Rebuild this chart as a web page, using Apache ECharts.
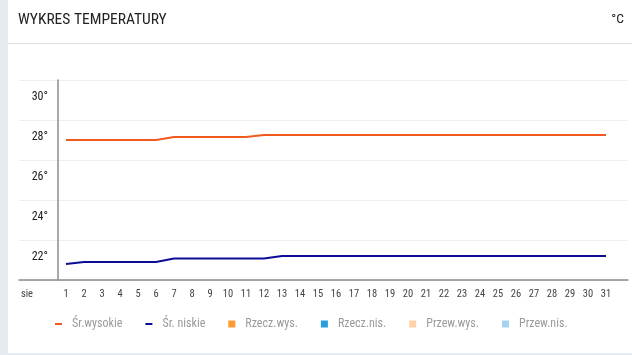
<!DOCTYPE html>
<html>
<head>
<meta charset="utf-8">
<script src="https://cdn.jsdelivr.net/npm/echarts@6/dist/echarts.min.js"></script>
<style>
html,body{margin:0;padding:0;background:#e6ebf2;}
#c{width:632px;height:355px;}
</style>
</head>
<body>
<div id="c"></div>
<script>
const titleText = 'WYKRES TEMPERATURY';
const unitText = '°C';
const monthLabel = 'sie';
const days = [1,2,3,4,5,6,7,8,9,10,11,12,13,14,15,16,17,18,19,20,21,22,23,24,25,26,27,28,29,30,31];
const avgHigh = [27.0,27.0,27.0,27.0,27.0,27.0,27.15,27.15,27.15,27.15,27.15,27.25,27.25,27.25,27.25,27.25,27.25,27.25,27.25,27.25,27.25,27.25,27.25,27.25,27.25,27.25,27.25,27.25,27.25,27.25,27.25];
const avgLow = [20.8,20.9,20.9,20.9,20.9,20.9,21.08,21.08,21.08,21.08,21.08,21.08,21.2,21.2,21.2,21.2,21.2,21.2,21.2,21.2,21.2,21.2,21.2,21.2,21.2,21.2,21.2,21.2,21.2,21.2,21.2];
const yTicks = [20,22,24,26,28,30];
const legendNames = ['Śr.wysokie','Śr. niskie','Rzecz.wys.','Rzecz.nis.','Przew.wys.','Przew.nis.'];
const seriesColors = ['#f15a1e','#0c0c96','#ff9933','#2a9ed8','#ffd1a6','#a6d3ef'];

const FONT = '"Roboto Condensed","Open Sans Condensed",sans-serif';
const monthPos = -1.17;
const chart = echarts.init(document.getElementById('c'));

const lineIcon = 'path://M0,0H7V2H0Z';
const series = [
  {name: legendNames[0], type:'line', xAxisIndex:0, yAxisIndex:0, symbol:'none', silent:true,
   lineStyle:{width:2,color:seriesColors[0]}, itemStyle:{color:seriesColors[0]},
   data: days.map((d,i)=>[d,avgHigh[i]])},
  {name: legendNames[1], type:'line', xAxisIndex:0, yAxisIndex:0, symbol:'none', silent:true,
   lineStyle:{width:2,color:seriesColors[1]}, itemStyle:{color:seriesColors[1]},
   data: days.map((d,i)=>[d,avgLow[i]])}
];
for (let k=2;k<6;k++) series.push({name:legendNames[k], type:'bar', xAxisIndex:0, yAxisIndex:0, itemStyle:{color:seriesColors[k]}, data:[]});

chart.setOption({
  backgroundColor:'#e6ebf2',
  animation:false,
  textStyle:{fontFamily:FONT},
  graphic:[
    {type:'rect', shape:{x:8,y:0,width:624,height:353}, style:{fill:'#ffffff'}, z:-10, silent:true},
    {type:'line', shape:{x1:8,y1:43.5,x2:632,y2:43.5}, style:{stroke:'#e0e0e0',lineWidth:1}, silent:true},
    {type:'text', x:18, y:20, style:{text:titleText, font:'15.5px '+FONT, fill:'#222', verticalAlign:'middle'}, silent:true},
    {type:'text', x:624, y:20, style:{text:unitText, font:'13.5px '+FONT, fill:'#222', align:'right', verticalAlign:'middle'}, silent:true}
  ],
  legend:{
    left:50, top:313, itemWidth:7, itemHeight:7, itemGap:23,
    textStyle:{fontSize:12,color:'#9a9a9a',fontFamily:FONT, padding:[0,0,0,5]},
    selectedMode:false,
    data: legendNames.map((n,i)=>({name:n, icon: i<2 ? lineIcon : 'rect'}))
  },
  grid:[
    {left:19, right:4, top:80, height:200},
    {left:58, right:4, top:80, height:200}
  ],
  xAxis:[
    {type:'value', gridIndex:0, min:-1.6111, max:32.2222,
     axisLine:{show:true, lineStyle:{color:'#8c8c8c', width:1.5}},
     axisTick:{show:false}, splitLine:{show:false},
     axisLabel:{customValues:[monthPos].concat(days), margin:9, fontSize:10.5, color:'#444', fontFamily:FONT,
       formatter:(v)=> (Math.abs(v-monthPos)<0.01 ? monthLabel : String(Math.round(v)))}},
    {type:'value', gridIndex:1, show:false, min:0, max:1}
  ],
  yAxis:[
    {type:'value', gridIndex:0, min:yTicks[0], max:yTicks[yTicks.length-1], interval:2,
     axisLine:{show:false}, axisTick:{show:false}, axisLabel:{show:false},
     splitLine:{show:true, lineStyle:{color:'#eeeeee', width:1}}},
    {type:'value', gridIndex:1, min:yTicks[0], max:yTicks[yTicks.length-1], interval:2,
     axisLine:{show:true, lineStyle:{color:'#8c8c8c', width:1.5}}, axisTick:{show:false},
     splitLine:{show:false},
     axisLabel:{margin:10, fontSize:12, color:'#222', fontFamily:FONT, verticalAlign:'top', lineHeight:34,
       customValues: yTicks.slice(1),
       formatter:(v)=> v + '°'}}
  ],
  series: series
});
</script>
</body>
</html>
